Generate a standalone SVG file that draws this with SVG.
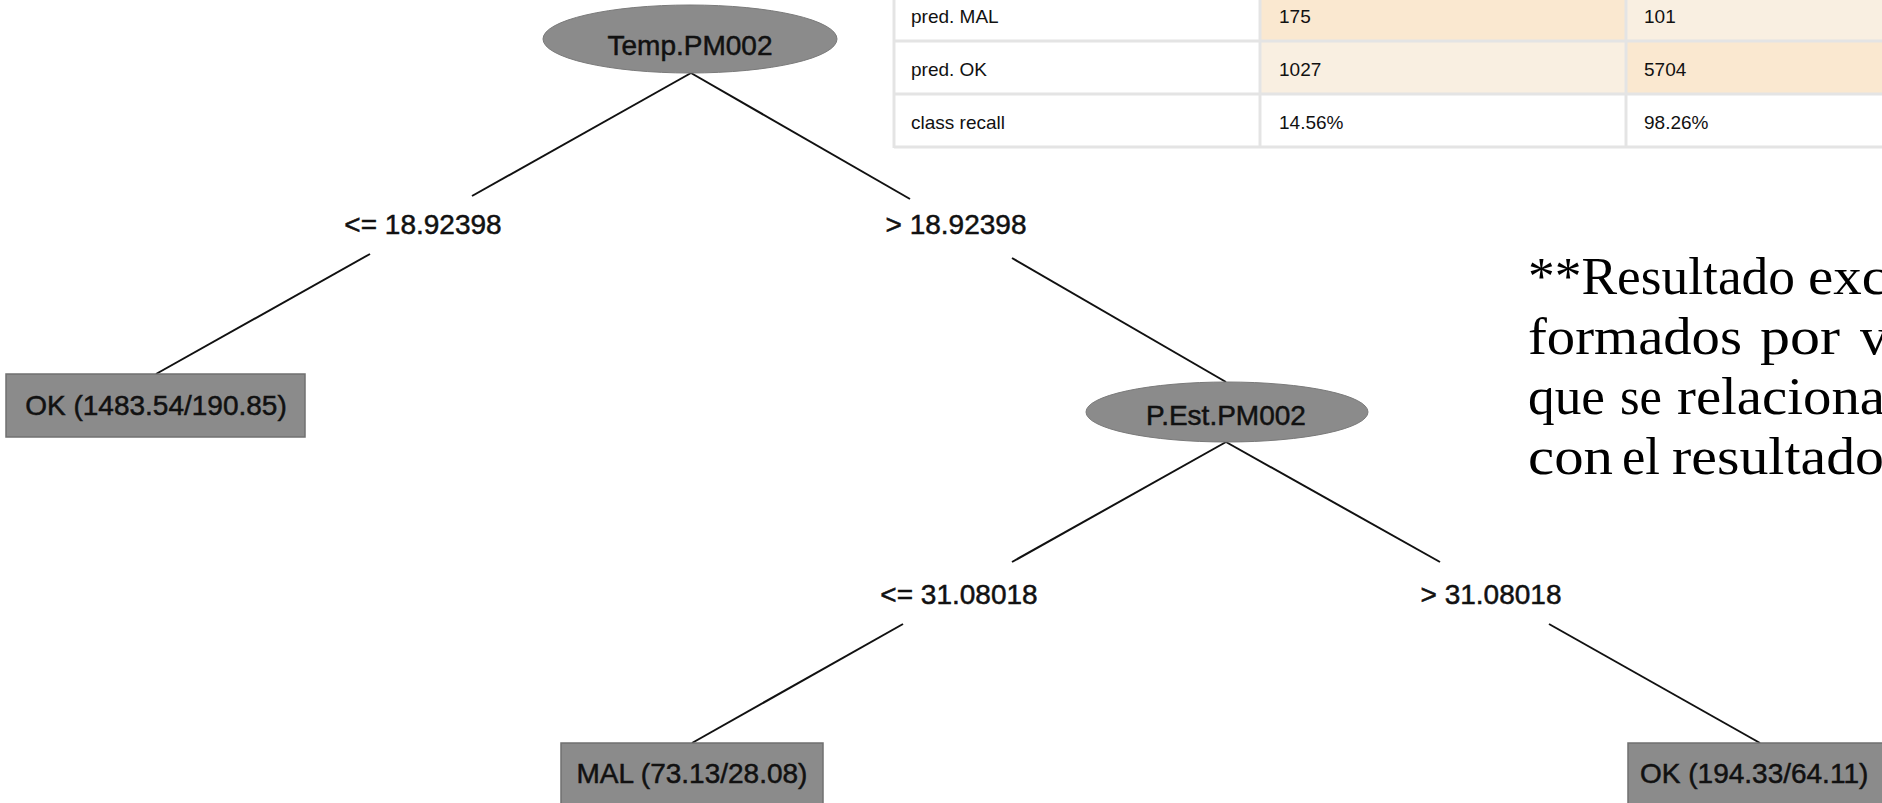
<svg xmlns="http://www.w3.org/2000/svg" width="1882" height="803" viewBox="0 0 1882 803">
<style>
.ell{fill:#8b8b8b;stroke:#7a7a7a;stroke-width:1}
.box{fill:#8b8b8b;stroke:#707070;stroke-width:1.5}
.nt{font-family:"Liberation Sans",Arial,sans-serif;font-size:28px;fill:#111;stroke:#111;stroke-width:0.5}
.lbl{font-family:"Liberation Sans",Arial,sans-serif;font-size:28px;fill:#111;stroke:#111;stroke-width:0.5;text-anchor:middle}
.edge{stroke:#111;stroke-width:2;fill:none}
.tt{font-family:"Liberation Sans",Arial,sans-serif;font-size:19px;fill:#111}
.grid{stroke:#e4e4e4;stroke-width:3;fill:none}
.note{font-family:"Liberation Serif","Times New Roman",serif;font-size:53px;fill:#000}
</style>
<rect width="1882" height="803" fill="#ffffff"/>

<g id="table">
  <rect x="894" y="0" width="988" height="147" fill="#ffffff"/>
  <rect x="1260" y="0" width="366" height="41" fill="#fae8d0"/>
  <rect x="1626" y="0" width="256" height="41" fill="#f9efe1"/>
  <rect x="1260" y="41" width="366" height="53" fill="#f9efe1"/>
  <rect x="1626" y="41" width="256" height="53" fill="#fae8d0"/>
  <line class="grid" x1="894" y1="0" x2="894" y2="148"/>
  <line class="grid" x1="1260" y1="0" x2="1260" y2="148"/>
  <line class="grid" x1="1626" y1="0" x2="1626" y2="148"/>
  <line class="grid" x1="894" y1="41" x2="1882" y2="41"/>
  <line class="grid" x1="894" y1="94" x2="1882" y2="94"/>
  <line class="grid" x1="894" y1="147" x2="1882" y2="147"/>
  <text class="tt" x="911" y="23">pred. MAL</text>
  <text class="tt" x="1279" y="23">175</text>
  <text class="tt" x="1644" y="23">101</text>
  <text class="tt" x="911" y="76">pred. OK</text>
  <text class="tt" x="1279" y="76">1027</text>
  <text class="tt" x="1644" y="76">5704</text>
  <text class="tt" x="911" y="129">class recall</text>
  <text class="tt" x="1279" y="129">14.56%</text>
  <text class="tt" x="1644" y="129">98.26%</text>
</g>

<g id="connectors">
  <line class="edge" x1="691" y1="73" x2="472" y2="196"/>
  <line class="edge" x1="370" y1="254" x2="156" y2="374"/>
  <line class="edge" x1="691" y1="73" x2="910" y2="199"/>
  <line class="edge" x1="1012" y1="258" x2="1226" y2="382"/>
  <line class="edge" x1="1226" y1="442" x2="1012" y2="562"/>
  <line class="edge" x1="903" y1="624" x2="692" y2="743"/>
  <line class="edge" x1="1226" y1="442" x2="1440" y2="562"/>
  <line class="edge" x1="1549" y1="624" x2="1760" y2="743"/>
  <text class="lbl" x="423" y="234">&lt;= 18.92398</text>
  <text class="lbl" x="956" y="234">&gt; 18.92398</text>
  <text class="lbl" x="959" y="604">&lt;= 31.08018</text>
  <text class="lbl" x="1491" y="604">&gt; 31.08018</text>
</g>

<g id="node-temp">
  <ellipse class="ell" cx="690" cy="39" rx="147" ry="34"/>
  <text class="nt" x="690" y="55" text-anchor="middle">Temp.PM002</text>
</g>

<g id="node-ok1">
  <rect class="box" x="6" y="374" width="299" height="63"/>
  <text class="nt" x="156" y="415" text-anchor="middle">OK (1483.54/190.85)</text>
</g>

<g id="node-pest">
  <ellipse class="ell" cx="1227" cy="412" rx="141" ry="30"/>
  <text class="nt" x="1226" y="425" text-anchor="middle">P.Est.PM002</text>
</g>

<g id="node-mal">
  <rect class="box" x="561" y="743" width="262" height="63"/>
  <text class="nt" x="692" y="783" text-anchor="middle">MAL (73.13/28.08)</text>
</g>

<g id="node-ok2">
  <rect class="box" x="1628" y="743" width="264" height="63"/>
  <text class="nt" x="1640" y="783">OK (194.33/64.11)</text>
</g>

<g id="note">
  <text class="note" x="1528" y="294" textLength="267" lengthAdjust="spacingAndGlyphs">**Resultado</text>
  <text class="note" x="1808" y="294" textLength="79" lengthAdjust="spacingAndGlyphs">exc</text>
  <text class="note" x="1528" y="354" textLength="214" lengthAdjust="spacingAndGlyphs">formados</text>
  <text class="note" x="1760" y="354" textLength="80" lengthAdjust="spacingAndGlyphs">por</text>
  <text class="note" x="1860" y="354" textLength="28" lengthAdjust="spacingAndGlyphs">v</text>
  <text class="note" x="1528" y="414" textLength="77" lengthAdjust="spacingAndGlyphs">que</text>
  <text class="note" x="1620" y="414" textLength="42" lengthAdjust="spacingAndGlyphs">se</text>
  <text class="note" x="1677" y="414" textLength="208" lengthAdjust="spacingAndGlyphs">relaciona</text>
  <text class="note" x="1528" y="474" textLength="85" lengthAdjust="spacingAndGlyphs">con</text>
  <text class="note" x="1622" y="474" textLength="38" lengthAdjust="spacingAndGlyphs">el</text>
  <text class="note" x="1672" y="474" textLength="212" lengthAdjust="spacingAndGlyphs">resultado</text>
</g>
</svg>
